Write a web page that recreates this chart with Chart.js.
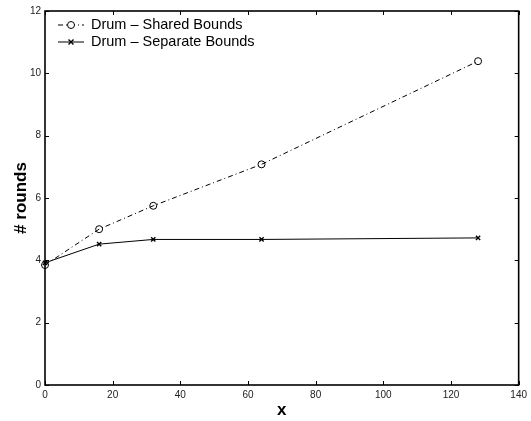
<!DOCTYPE html>
<html>
<head>
<meta charset="utf-8">
<script src="https://cdn.jsdelivr.net/npm/chart.js@4/dist/chart.umd.min.js"></script>
<style>
  html, body { margin: 0; padding: 0; background: #fff; }
  #wrap { width: 531px; height: 421px; }
</style>
</head>
<body>
<div id="wrap"><canvas id="c" width="531" height="421"></canvas></div>
<script>
// x positions (number of items) and rounds measured for each bounding scheme
const xValues = [0, 16, 32, 64, 128];
const sharedRounds = [3.85, 5.0, 5.75, 7.08, 10.39];
const separateRounds = [3.92, 4.52, 4.67, 4.67, 4.72];
const seriesNames = ['Drum \u2013 Shared Bounds', 'Drum \u2013 Separate Bounds'];
const xTicks = [0, 20, 40, 60, 80, 100, 120, 140];
const yTicks = [0, 2, 4, 6, 8, 10, 12];

const FONT = '"Liberation Sans", Arial, Helvetica, sans-serif';

function toPoints(xs, ys) {
  return xs.map((x, i) => ({ x: x, y: ys[i] }));
}

// Box frame with inward tick marks on all four sides, plus a line/marker legend
const framePlugin = {
  id: 'frame',
  afterDraw(chart) {
    const ctx = chart.ctx;
    const a = chart.chartArea;
    const xs = chart.scales.x, ys = chart.scales.y;
    ctx.save();
    // inward ticks
    ctx.strokeStyle = '#000';
    ctx.lineWidth = 1;
    const len = 4;
    xTicks.forEach(v => {
      const px = Math.round(xs.getPixelForValue(v)) + 0.5;
      ctx.beginPath();
      ctx.moveTo(px, a.bottom); ctx.lineTo(px, a.bottom - len);
      ctx.moveTo(px, a.top); ctx.lineTo(px, a.top + len);
      ctx.stroke();
    });
    yTicks.forEach(v => {
      const py = Math.round(ys.getPixelForValue(v)) + 0.5;
      ctx.beginPath();
      ctx.moveTo(a.left, py); ctx.lineTo(a.left + len, py);
      ctx.moveTo(a.right, py); ctx.lineTo(a.right - len, py);
      ctx.stroke();
    });
    // frame
    ctx.lineWidth = 1.6;
    ctx.strokeRect(a.left, a.top, a.right - a.left, a.bottom - a.top);

    // legend
    const lx0 = a.left + 13, lx1 = a.left + 39, mx = (lx0 + lx1) / 2;
    const textX = a.left + 46;
    const rows = [a.top + 14, a.top + 31];
    ctx.font = '14.5px ' + FONT;
    ctx.fillStyle = '#000';
    ctx.textBaseline = 'middle';
    ctx.textAlign = 'left';
    // row 1: dash-dot with open circle
    ctx.lineWidth = 1;
    ctx.setLineDash([5, 3, 1, 3]);
    ctx.beginPath(); ctx.moveTo(lx0, rows[0]); ctx.lineTo(lx1, rows[0]); ctx.stroke();
    ctx.setLineDash([]);
    ctx.fillStyle = '#fff';
    ctx.beginPath(); ctx.arc(mx, rows[0], 3.5, 0, Math.PI * 2); ctx.fill(); ctx.stroke();
    ctx.fillStyle = '#000';
    ctx.fillText(seriesNames[0], textX, rows[0]);
    // row 2: solid with cross
    ctx.beginPath(); ctx.moveTo(lx0, rows[1]); ctx.lineTo(lx1, rows[1]); ctx.stroke();
    ctx.lineWidth = 1.4;
    ctx.beginPath();
    ctx.moveTo(mx - 2.5, rows[1] - 2.5); ctx.lineTo(mx + 2.5, rows[1] + 2.5);
    ctx.moveTo(mx - 2.5, rows[1] + 2.5); ctx.lineTo(mx + 2.5, rows[1] - 2.5);
    ctx.stroke();
    ctx.fillText(seriesNames[1], textX, rows[1]);
    ctx.restore();
  }
};

new Chart(document.getElementById('c'), {
  type: 'line',
  data: {
    datasets: [
      {
        label: seriesNames[0],
        data: toPoints(xValues, sharedRounds),
        borderColor: '#000',
        borderWidth: 1,
        borderDash: [5, 3, 1, 3],
        pointStyle: 'circle',
        pointRadius: 3.5,
        pointBorderWidth: 1,
        pointBorderColor: '#000',
        pointBackgroundColor: 'rgba(0,0,0,0)',
        clip: false,
        tension: 0
      },
      {
        label: seriesNames[1],
        data: toPoints(xValues, separateRounds),
        borderColor: '#000',
        borderWidth: 1,
        pointStyle: 'crossRot',
        pointRadius: 3,
        pointBorderWidth: 1.4,
        pointBorderColor: '#000',
        clip: false,
        tension: 0
      }
    ]
  },
  options: {
    responsive: false,
    animation: false,
    events: [],
    layout: { padding: { left: 0, top: 11, right: 10, bottom: 0 } },
    plugins: { legend: { display: false }, tooltip: { enabled: false } },
    scales: {
      x: {
        type: 'linear',
        min: 0, max: 140,
        afterBuildTicks(s) { s.ticks = xTicks.map(v => ({ value: v })); },
        afterFit(s) { s.height = 36; },
        grid: { display: false, drawTicks: false },
        border: { display: false },
        ticks: { color: '#222', padding: 4, font: { family: FONT, size: 10 }, maxRotation: 0 },
        title: { display: true, text: 'x', color: '#000', padding: { top: 0, bottom: 0 },
                 font: { family: FONT, size: 17, weight: 'bold' } }
      },
      y: {
        min: 0, max: 12,
        afterBuildTicks(s) { s.ticks = yTicks.map(v => ({ value: v })); },
        afterFit(s) { s.width = 45; },
        grid: { display: false, drawTicks: false },
        border: { display: false },
        ticks: { color: '#222', padding: 4, font: { family: FONT, size: 10 } },
        title: { display: true, text: '# rounds', color: '#000', padding: { top: 11, bottom: 0 },
                 font: { family: FONT, size: 17, weight: 'bold' } }
      }
    }
  },
  plugins: [framePlugin]
});
</script>
</body>
</html>
